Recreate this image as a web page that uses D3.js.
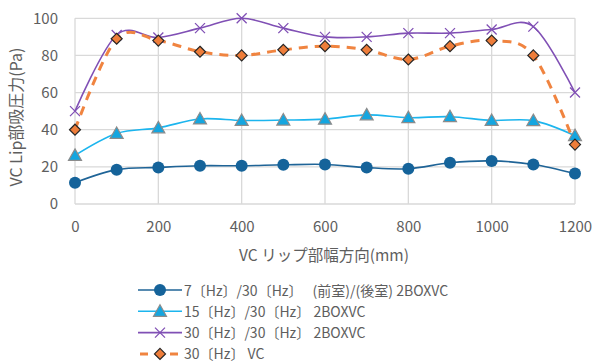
<!DOCTYPE html>
<html><head><meta charset="utf-8">
<script src="https://cdn.jsdelivr.net/npm/d3@7"></script>
<style>
body{margin:0;background:#fff;}
text{font-family:"Noto Sans CJK JP","Noto Sans",sans-serif;fill:#5e5e5e;}
</style></head>
<body><svg id="c" width="595" height="363"></svg>
<script>
const xs = [0,100,200,300,400,500,600,700,800,900,1000,1100,1200];
const s1 = [11.5,18.5,19.7,20.6,20.6,21.1,21.3,19.6,19.0,22.2,23.2,21.3,16.4];
const s2 = [26.2,38.0,41.0,45.8,45.0,45.2,45.7,48.0,46.5,47.0,45.0,44.9,36.8];
const s3 = [50,91,89.7,94.7,100,94.7,90,90,92,92,94,95.5,60];
const s4 = [40,89,88,82,80,83,85,83,77.8,85,88,80,32];
const names = ["7〔Hz〕/30〔Hz〕　 (前室)/(後室) 2BOXVC","15〔Hz〕/30〔Hz〕 2BOXVC","30〔Hz〕/30〔Hz〕 2BOXVC","30〔Hz〕 VC"];
const xTicks = [0,200,400,600,800,1000,1200];
const yTicks = [0,20,40,60,80,100];

const svg = d3.select("#c");
const x = d3.scaleLinear().domain([0,1200]).range([75,575]);
const y = d3.scaleLinear().domain([0,100]).range([204,18.3]);

// grid
svg.append("g").selectAll("line").data(yTicks).join("line")
  .attr("x1",x(0)).attr("x2",x(1200)).attr("y1",d=>y(d)).attr("y2",d=>y(d))
  .attr("stroke","#D9D9D9").attr("stroke-width",1.3);
svg.append("g").selectAll("line").data(xTicks).join("line")
  .attr("x1",d=>x(d)).attr("x2",d=>x(d)).attr("y1",y(0)).attr("y2",y(100))
  .attr("stroke","#D9D9D9").attr("stroke-width",1.3);

// axes labels
const ya = svg.append("g").attr("transform",`translate(${x(0)},0)`)
  .call(d3.axisLeft(y).tickValues(yTicks).tickSize(0).tickPadding(17));
ya.select(".domain").remove();
ya.selectAll("text").attr("font-size",15).style("font-family",'"Noto Sans CJK JP",sans-serif').attr("fill","#5e5e5e");
const xa = svg.append("g").attr("transform",`translate(0,${y(0)})`)
  .call(d3.axisBottom(x).tickValues(xTicks).tickSize(0).tickPadding(17).tickFormat(d3.format("d")));
xa.select(".domain").remove();
xa.selectAll("text").attr("font-size",15).style("font-family",'"Noto Sans CJK JP",sans-serif').attr("fill","#5e5e5e");

svg.append("text").attr("x",324).attr("y",261).attr("text-anchor","middle").attr("font-size",15.5).text("VC リップ部幅方向(mm)");
svg.append("text").attr("transform","translate(22,117) rotate(-90)").attr("text-anchor","middle").attr("font-size",16).text("VC Lip部吸圧力(Pa)");

const series = [
  {v:s1,color:"#1F6497",w:1.6,dash:null,marker:"circle",fill:"#15639A",stroke:"#15639A"},
  {v:s2,color:"#1CB5EE",w:1.6,dash:null,marker:"triangle",fill:"#14A6E0",stroke:"#8C8C8C"},
  {v:s3,color:"#8050B5",w:1.6,dash:null,marker:"x",fill:"none",stroke:"#8050B5"},
  {v:s4,color:"#F08440",w:3,dash:"9,7",marker:"diamond",fill:"#EE7D3A",stroke:"#262626"}
];
const line = d3.line().x((d,i)=>x(xs[i])).y(d=>y(d)).curve(d3.curveCatmullRom.alpha(0));

function marker(g, type, cx, cy, s){
  if(type==="circle"){
    g.append("circle").attr("cx",cx).attr("cy",cy).attr("r",6).attr("fill",s.fill);
  } else if(type==="triangle"){
    g.append("path").attr("d",`M${cx},${cy-6.5}L${cx+6.5},${cy+5}L${cx-6.5},${cy+5}Z`).attr("fill",s.fill).attr("stroke",s.stroke).attr("stroke-width",1.2);
  } else if(type==="x"){
    g.append("path").attr("d",`M${cx-5},${cy-5}L${cx+5},${cy+5}M${cx-5},${cy+5}L${cx+5},${cy-5}`).attr("stroke",s.stroke).attr("stroke-width",1.3);
  } else {
    g.append("path").attr("d",`M${cx},${cy-5.5}L${cx+5.5},${cy}L${cx},${cy+5.5}L${cx-5.5},${cy}Z`).attr("fill",s.fill).attr("stroke",s.stroke).attr("stroke-width",1.2);
  }
}

series.forEach(s=>{
  svg.append("path").datum(s.v).attr("d",line).attr("fill","none").attr("stroke",s.color)
    .attr("stroke-width",s.w).attr("stroke-dasharray",s.dash);
});
series.forEach(s=>{
  const g = svg.append("g");
  s.v.forEach((v,i)=>marker(g,s.marker,x(xs[i]),y(v),s));
});

// legend
series.forEach((s,i)=>{
  const ly = 290 + i*21.3;
  svg.append("line").attr("x1",138).attr("x2",182).attr("y1",ly).attr("y2",ly)
    .attr("stroke",s.color).attr("stroke-width",s.w).attr("stroke-dasharray",s.dash?"8,7":null)
    .attr("stroke-dashoffset",s.dash?-2:null);
  marker(svg.append("g"),s.marker,160,ly,s);
  svg.append("text").attr("x",184).attr("y",ly+5.5).attr("font-size",14).text(names[i]);
});
</script></body></html>
